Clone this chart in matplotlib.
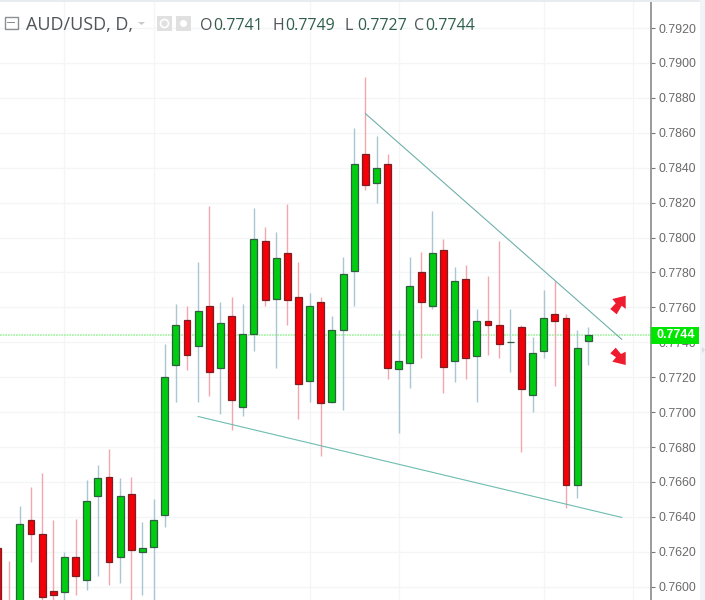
import matplotlib
matplotlib.use('Agg')
import matplotlib.pyplot as plt
from matplotlib.patches import Rectangle, Polygon, Circle

# candle values, one entry per day
opens = [0.7622, 0.7585, 0.7580, 0.76385, 0.7630, 0.75973, 0.7597, 0.7617, 0.7604, 0.7652,
         0.7663, 0.7617, 0.7653, 0.7620, 0.7623, 0.7641, 0.7727, 0.7753, 0.7738, 0.7761,
         0.7725, 0.7755, 0.7703, 0.7745, 0.7798, 0.7765, 0.7791, 0.7766, 0.7718, 0.7763,
         0.7706, 0.7747, 0.7781, 0.7848, 0.7831, 0.7842, 0.77245, 0.7728, 0.7780, 0.7761,
         0.7793, 0.7729, 0.7776, 0.7732, 0.7752, 0.7750, 0.7740, 0.7749, 0.7710, 0.7735,
         0.7756, 0.7754, 0.7658, 0.7741]
closes = [0.7570, 0.7575, 0.7636, 0.7630, 0.7594, 0.75955, 0.7617, 0.7606, 0.7649, 0.7662,
          0.7614, 0.7652, 0.7621, 0.7622, 0.7638, 0.7720, 0.7750, 0.7733, 0.7758, 0.7723,
          0.7751, 0.7707, 0.7745, 0.7799, 0.7764, 0.7788, 0.7764, 0.7716, 0.7761, 0.7705,
          0.7747, 0.7779, 0.7842, 0.7830, 0.7840, 0.7725, 0.7729, 0.7772, 0.7763, 0.7791,
          0.7726, 0.7775, 0.7731, 0.7752, 0.7750, 0.7739, 0.7740, 0.7713, 0.7734, 0.7754,
          0.7752, 0.7658, 0.7737, 0.7744]
highs = [0.7622, 0.7615, 0.7646, 0.7657, 0.7665, 0.7638, 0.7620, 0.7639, 0.7661, 0.7670,
         0.7679, 0.7662, 0.7663, 0.7637, 0.7650, 0.7739, 0.7762, 0.7761, 0.7786, 0.7818,
         0.7763, 0.7766, 0.7762, 0.7817, 0.7806, 0.7803, 0.7819, 0.7786, 0.7768, 0.7766,
         0.7755, 0.7789, 0.7863, 0.7892, 0.7858, 0.7848, 0.7747, 0.7789, 0.7792, 0.7815,
         0.7799, 0.7783, 0.7784, 0.7759, 0.7778, 0.7798, 0.7759, 0.7750, 0.7743, 0.7770,
         0.7775, 0.7756, 0.7747, 0.7749]
lows = [0.7560, 0.7560, 0.7575, 0.7614, 0.7585, 0.7585, 0.7585, 0.7595, 0.7598, 0.7606,
        0.7601, 0.7602, 0.7585, 0.7595, 0.7585, 0.7634, 0.7706, 0.7724, 0.7706, 0.7709,
        0.7699, 0.7690, 0.7698, 0.7735, 0.7761, 0.7725, 0.7750, 0.7696, 0.7706, 0.7675,
        0.7705, 0.7701, 0.7761, 0.7827, 0.7820, 0.7719, 0.7688, 0.7714, 0.7731, 0.7759,
        0.7711, 0.7717, 0.7719, 0.7706, 0.7733, 0.7731, 0.7723, 0.7677, 0.7700, 0.7731,
        0.7715, 0.7645, 0.7651, 0.7727]

y_ticks = [0.7600, 0.7620, 0.7640, 0.7660, 0.7680, 0.7700, 0.7720, 0.7740, 0.7760,
           0.7780, 0.7800, 0.7820, 0.7840, 0.7860, 0.7880, 0.7900, 0.7920]
grid_days = [6, 14, 28, 36, 49, 57]
last_price = 0.7744

upper_line_x = [33, 56]
upper_line_y = [0.7871, 0.77417]
lower_line_x = [18, 56]
lower_line_y = [0.76975, 0.76397]

header_labels = ['O', 'H', 'L', 'C']
header_values = ['0.7741', '0.7749', '0.7727', '0.7744']

W, H = 705, 600
plt.rcParams['font.family'] = ['Liberation Sans', 'DejaVu Sans']
fig = plt.figure(figsize=(W / 100, H / 100), dpi=100)
ax = fig.add_axes([0, 0, 650.7 / W, 598 / H])

# pixel transform for the decorations, y going down like the screenshot
px = matplotlib.transforms.Affine2D().scale(1 / W, -1 / H).translate(0, 1) + fig.transFigure

for d in range(len(opens)):
    up = closes[d] >= opens[d]
    wick = '#a9c6d2' if up else '#f4a6ae'
    ax.plot([d, d], [lows[d], highs[d]], color=wick, lw=1.0, zorder=3, solid_capstyle='butt')
    body = abs(closes[d] - opens[d])
    ax.bar(d, body, 0.62, bottom=min(opens[d], closes[d]), zorder=4,
           color='#00cc11' if up else '#f50008', edgecolor='#2f5f3f' if up else '#7a1f22', lw=0.9)

ax.plot(upper_line_x, upper_line_y, color='#6fb0aa', lw=0.8, zorder=5)
ax.plot(lower_line_x, lower_line_y, color='#6fbcb0', lw=0.8, zorder=5)
ax.axhline(last_price, color='#a0f2a0', lw=1.2, ls=(0, (1, 0.6)), zorder=2)

ax.set_xlim(0.22, 58.6)
ax.set_ylim(0.75924, 0.79349)
ax.set_xticks(grid_days)
ax.set_yticks(y_ticks)
ax.set_yticklabels(['%.4f' % t for t in y_ticks])
ax.yaxis.tick_right()
ax.grid(True, color='#f3f5f7', lw=0.9, zorder=0)
ax.set_axisbelow(True)
ax.tick_params(axis='x', length=0, labelbottom=False)
ax.tick_params(axis='y', length=3, width=0.8, color='#777777', labelcolor='#6b6b6b',
               labelsize=8.9, pad=2.5)
for lab in ax.get_yticklabels():
    lab.set_verticalalignment('center_baseline')
for s in ['top', 'left', 'bottom']:
    ax.spines[s].set_visible(False)
ax.spines['right'].set_color('#8a8a8a')
ax.spines['right'].set_linewidth(1.2)

# last price tag
fig.add_artist(Rectangle((651, 327), 48, 17, transform=px, fc='#00e600', ec='none', zorder=6))
fig.text(676 / W, 1 - 335.5 / H, '%.4f' % last_price, color='white', fontsize=9, fontweight='bold',
         ha='center', va='center', zorder=7)

# top border and right strip
fig.add_artist(Rectangle((0, 0), W, 2, transform=px, fc='#e9ecef', ec='none'))
fig.add_artist(Rectangle((700, 0), 5, H, transform=px, fc='#f1f3f6', ec='none'))
fig.add_artist(Polygon([(702, 347), (705, 350), (702, 353)], transform=px, fc='#d9dce0', ec='none'))

# header
fig.text(26 / W, 1 - 30 / H, 'AUD/USD, D,', family=['Open Sans', 'DejaVu Sans'], fontsize=13,
         color='#4f5558', va='baseline')
label_x = [200, 272, 344, 414]
value_x = [213, 285, 357, 425]
for lab, val, lx, vx in zip(header_labels, header_values, label_x, value_x):
    fig.text(lx / W, 1 - 30 / H, lab, family=['Open Sans', 'DejaVu Sans'], fontsize=11.5, color='#4f5558')
    fig.text(vx / W, 1 - 30 / H, val, family=['Open Sans', 'DejaVu Sans'], fontsize=11.5, color='#2f5f4c')

# header icons
fig.add_artist(Rectangle((4.5, 16.5), 13, 12, transform=px, fc='none', ec='#8a8f92', lw=1))
fig.add_artist(Rectangle((7, 22), 8, 1, transform=px, fc='#8a8f92', ec='none'))
fig.add_artist(Polygon([(138, 22), (145, 22), (141.5, 25)], transform=px, fc='#c8c8c8', ec='none'))
fig.add_artist(Rectangle((157, 16), 15, 15, transform=px, fc='#e0e0e0', ec='none'))
fig.add_artist(Rectangle((176, 16), 15, 15, transform=px, fc='#e0e0e0', ec='none'))
fig.add_artist(Circle((164.5, 23.5), 4, transform=px, fc='none', ec='white', lw=1.2))
fig.add_artist(Circle((183.5, 23.5), 3.5, transform=px, fc='white', ec='none'))

# red arrows
fig.add_artist(Polygon([(612.3, 299), (625.7, 295.7), (625.7, 309), (621.7, 305.7), (616.7, 314.3),
                        (610.3, 309), (615.7, 303.3)],
                       transform=px, fc='#ee1c2e', ec='none', zorder=6))
fig.add_artist(Polygon([(610.3, 353.3), (615.7, 347.7), (621, 354), (625.7, 351.7), (625.7, 365),
                        (612.3, 361.7), (616, 357.3)],
                       transform=px, fc='#ee1c2e', ec='none', zorder=6))

fig.savefig('out.png', dpi=100, facecolor='white')
